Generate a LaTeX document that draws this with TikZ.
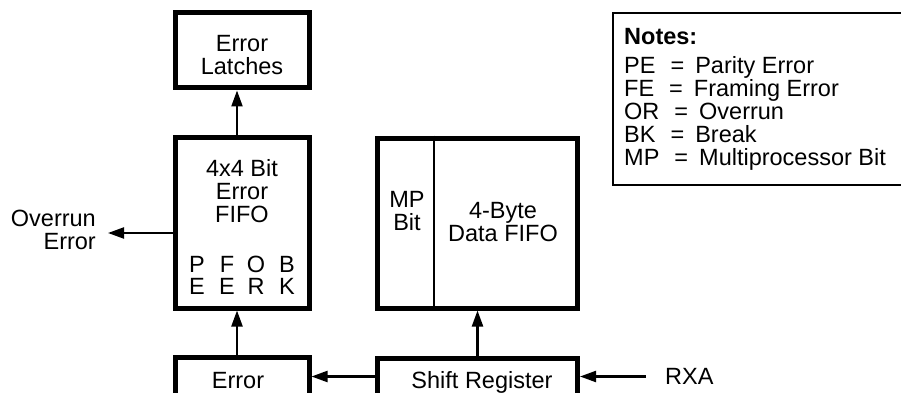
\documentclass[tikz,border=0pt]{standalone}
\usepackage{fontspec}
\setmainfont{Liberation Sans}
\usetikzlibrary{arrows.meta, positioning, calc}
\newcommand{\figfont}{\fontsize{23.5}{23}\selectfont}

\begin{document}
\begin{tikzpicture}[x=1pt, y=-1pt, font=\figfont,
  block/.style={draw, line width=5pt, inner sep=0pt},
  conn/.style={line width=2.2pt, -{Triangle[length=16pt, width=11pt]}},
  txt/.style={inner sep=0pt, align=center}]
  \useasboundingbox (0,0) rectangle (901,393);
  \clip (0,0) rectangle (901,393);

  % Error latches
  \node[block, minimum width=134pt, minimum height=75pt] (latch) at (242, 50.5) {};
  \node[txt] (latchtxt) at (242, 55) {Error\\Latches};

  % Error FIFO with status bits
  \node[block, minimum width=134pt, minimum height=170.5pt] (fifo) at (242, 222.75) {};
  \node[txt] (fifotxt) at (242, 191) {4x4 Bit\\Error\\FIFO};
  \foreach \up/\dn/\x [count=\i] in {P/E/197, F/E/227, O/R/256, B/K/287} {
    \node[txt] (up\i) at (\x, 264) {\up};
    \node[txt] (dn\i) at (\x, 286) {\dn};
  }

  % Overrun output
  \node[txt, align=right, anchor=east] (ovr) at (96, 229.5) {Overrun\\Error};
  \coordinate (ovrtip) at (108, 233);
  \draw[conn] (fifo.west |- ovrtip) -- (ovrtip);

  % Error block (cut off at the bottom)
  \node[block, minimum width=134pt, minimum height=70pt, anchor=north] (err) at (242, 355) {};
  \node[txt, anchor=base] (errtxt) at (238, 388) {Error};

  % Data FIFO
  \node[block, minimum width=200pt, minimum height=170pt] (data) at (477.5, 223) {};
  \draw[line width=2pt] ($(data.north west)+(59,0)$) -- ($(data.south west)+(59,0)$);
  \node[txt] (mptxt) at (407, 211) {MP\\Bit};
  \node[txt] (datatxt) at (503, 222) {4-Byte\\Data FIFO};

  % Shift register
  \node[block, minimum width=200pt, minimum height=70pt, anchor=north] (shift) at (477.5, 355.5) {};
  \node[txt, anchor=base] (shifttxt) at (482, 388) {Shift Register};
  \node[txt, anchor=west] (rxa) at (665, 376.5) {RXA};

  % Connectors
  \draw[conn, shorten <=19pt] (rxa.west) -- (rxa.west -| shift.east);
  \draw[conn] (rxa.west -| shift.west) -- (rxa.west -| err.east);
  \draw[conn] (shift.north) -- (data.south);
  \draw[conn] ([xshift=-5pt]err.north) -- ([xshift=-5pt]fifo.south);
  \draw[conn] ([xshift=-5pt]fifo.north) -- ([xshift=-5pt]latch.south);

  % Notes (runs off the right edge)
  \node[draw, line width=2pt, minimum width=330pt, minimum height=172pt, inner sep=0pt, anchor=west] (notes) at (612, 99) {};
  \node[anchor=base west, inner sep=0pt, font=\figfont\bfseries] (notehead) at (624, 45) {Notes:};
  \foreach \ab/\desc [count=\i] in {PE/Parity Error, FE/Framing Error, OR/Overrun, BK/Break, MP/Multiprocessor Bit}
    \node[anchor=base west, inner sep=0pt] (note\i) at (624, {51.25+22.75*\i}) {\ab\hspace{15pt}=\hspace{11pt}\desc};
\end{tikzpicture}
\end{document}
